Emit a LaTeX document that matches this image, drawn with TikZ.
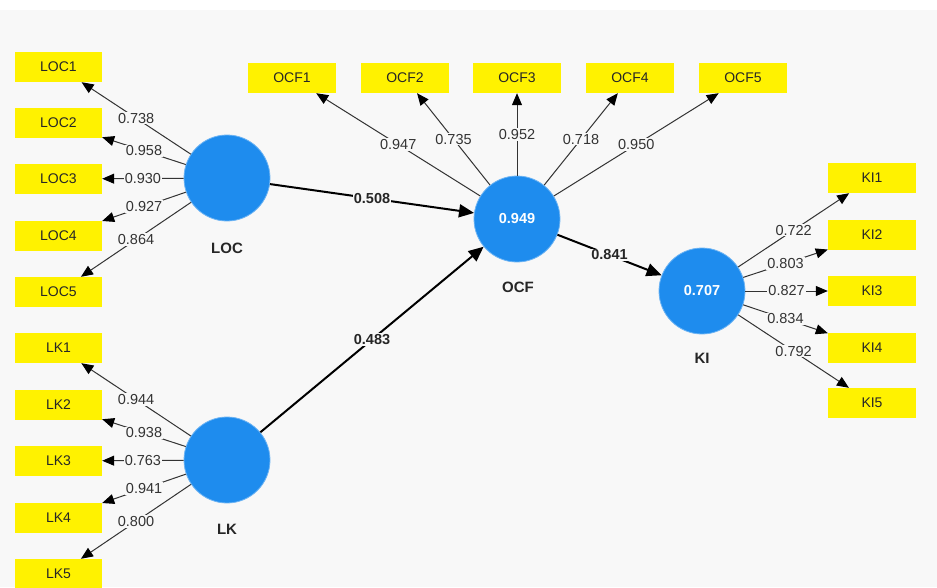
\documentclass[tikz,border=0pt]{standalone}
\usepackage{fontspec}
\setmainfont{Liberation Sans}
\usetikzlibrary{arrows.meta}
\definecolor{bg}{RGB}{248,248,248}
\definecolor{lvblue}{RGB}{30,140,238}
\definecolor{ind}{RGB}{255,242,0}
\definecolor{ln}{RGB}{51,51,51}
\begin{document}
\begin{tikzpicture}[x=1pt,y=-1pt,
  indbox/.style={fill=ind, minimum width=88pt, minimum height=30pt, inner sep=0pt, font=\fontsize{14}{16}\selectfont, text=black!85},
  lv/.style={circle, fill=lvblue, draw=lvblue!65!white, line width=0.8pt, minimum size=86pt, inner sep=0pt, text=white, font=\bfseries\fontsize{14.5}{16}\selectfont},
  lvname/.style={font=\bfseries\fontsize{15}{17}\selectfont, text=black!85},
  load/.style={draw=ln, line width=1pt, -{Triangle[length=12pt,width=10pt,color=black]}},
  wt/.style={fill=bg, inner sep=1pt, font=\fontsize{14.5}{16}\selectfont, text=ln},
  strpath/.style={draw=black, line width=2pt, -{Triangle[length=15pt,width=13pt]}},
  pwt/.style={fill=bg, inner sep=1pt, font=\bfseries\fontsize{14.5}{16}\selectfont, text=black!85}
]
\useasboundingbox (0,0) rectangle (937,587);
\fill[white] (0,0) rectangle (937,587);
\fill[bg] (0,10) rectangle (937,587);

% latent variables
\node[lv] (LOC) at (227,178) {};
\node[lv] (LK) at (227,460) {};
\node[lv] (OCF) at (517,219) {0.949};
\node[lv] (KI) at (702,291) {0.707};
\node[lvname] (LOCn) at (227,248) {LOC};
\node[lvname] (LKn) at (227,529) {LK};
\node[lvname] (OCFn) at (518,287) {OCF};
\node[lvname] (KIn) at (702,358) {KI};

% LOC indicators
\node[indbox, minimum width=87pt] (LOC1) at (58.5,67) {LOC1};
\node[indbox, minimum width=87pt] (LOC2) at (58.5,123) {LOC2};
\node[indbox, minimum width=87pt] (LOC3) at (58.5,179) {LOC3};
\node[indbox, minimum width=87pt] (LOC4) at (58.5,236) {LOC4};
\node[indbox, minimum width=87pt] (LOC5) at (58.5,292) {LOC5};
% LK indicators
\node[indbox, minimum width=87pt] (LK1) at (58.5,348) {LK1};
\node[indbox, minimum width=87pt] (LK2) at (58.5,405) {LK2};
\node[indbox, minimum width=87pt] (LK3) at (58.5,461) {LK3};
\node[indbox, minimum width=87pt] (LK4) at (58.5,518) {LK4};
\node[indbox, minimum width=87pt] (LK5) at (58.5,574) {LK5};
% OCF indicators
\node[indbox] (OCF1) at (292,78) {OCF1};
\node[indbox] (OCF2) at (405,78) {OCF2};
\node[indbox] (OCF3) at (517,78) {OCF3};
\node[indbox] (OCF4) at (630,78) {OCF4};
\node[indbox] (OCF5) at (743,78) {OCF5};
% KI indicators
\node[indbox] (KI1) at (872,178) {KI1};
\node[indbox] (KI2) at (872,235) {KI2};
\node[indbox] (KI3) at (872,291) {KI3};
\node[indbox] (KI4) at (872,348) {KI4};
\node[indbox] (KI5) at (872,403) {KI5};

% loadings
\draw[load] (LOC) -- node[wt] {0.738} (LOC1);
\draw[load] (LOC) -- node[wt] {0.958} (LOC2);
\draw[load] (LOC) -- node[wt] {0.930} (LOC3);
\draw[load] (LOC) -- node[wt] {0.927} (LOC4);
\draw[load] (LOC) -- node[wt] {0.864} (LOC5);

\draw[load] (LK) -- node[wt] {0.944} (LK1);
\draw[load] (LK) -- node[wt] {0.938} (LK2);
\draw[load] (LK) -- node[wt] {0.763} (LK3);
\draw[load] (LK) -- node[wt] {0.941} (LK4);
\draw[load] (LK) -- node[wt] {0.800} (LK5);

\draw[load] (OCF) -- node[wt] {0.947} (OCF1);
\draw[load] (OCF) -- node[wt] {0.735} (OCF2);
\draw[load] (OCF) -- node[wt] {0.952} (OCF3);
\draw[load] (OCF) -- node[wt] {0.718} (OCF4);
\draw[load] (OCF) -- node[wt] {0.950} (OCF5);

\draw[load] (KI) -- node[wt] {0.722} (KI1);
\draw[load] (KI) -- node[wt] {0.803} (KI2);
\draw[load] (KI) -- node[wt] {0.827} (KI3);
\draw[load] (KI) -- node[wt] {0.834} (KI4);
\draw[load] (KI) -- node[wt] {0.792} (KI5);

% structural paths
\draw[strpath] (LOC) -- node[pwt] {0.508} (OCF);
\draw[strpath] (LK) -- node[pwt] {0.483} (OCF);
\draw[strpath] (OCF) -- node[pwt] {0.841} (KI);
\end{tikzpicture}
\end{document}
